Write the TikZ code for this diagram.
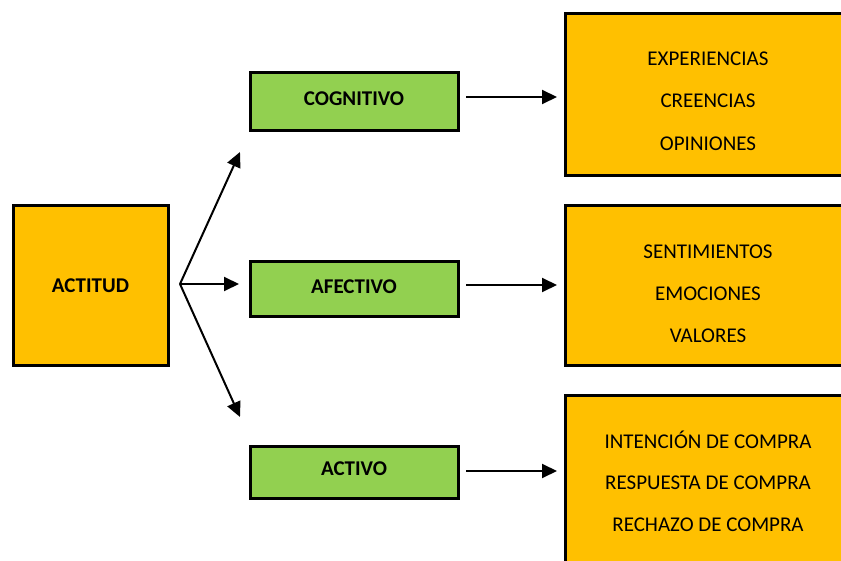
\documentclass[tikz,border=0pt]{standalone}
\usepackage{fontspec}
\setmainfont{Carlito}
\usetikzlibrary{arrows.meta}
\definecolor{boxorange}{HTML}{FFC000}
\definecolor{boxgreen}{HTML}{92D050}
\begin{document}
\begin{tikzpicture}[x=1pt, y=-1pt,
  obox/.style={draw=black, line width=3pt, fill=boxorange, rectangle, inner sep=0pt},
  gbox/.style={draw=black, line width=3pt, fill=boxgreen, rectangle, inner sep=0pt,
    minimum width=208pt, text depth=6pt, font=\fontsize{21}{25}\selectfont\bfseries},
  itemtxt/.style={font=\fontsize{21}{25}\selectfont, align=center, inner sep=0pt},
  arr/.style={line width=2pt, -{Triangle[length=15pt,width=14pt]}}]
\useasboundingbox (0,0) rectangle (841,561);

% main concept
\node[obox, minimum width=155pt, minimum height=160pt,
  font=\fontsize{21}{25}\selectfont\bfseries] (actitud) at (90.5,286) {ACTITUD};

% three components
\node[gbox, minimum height=58pt] (cog) at (354,102) {COGNITIVO};
\node[gbox, minimum height=55pt] (afe) at (354,289.5) {AFECTIVO};
\node[gbox, minimum height=52pt] (act) at (354,472) {ACTIVO};

% detail boxes (running past the right edge)
\node[obox, minimum width=280pt, minimum height=162pt] (dcog) at (705,95) {};
\node[obox, minimum width=280pt, minimum height=160pt] (dafe) at (705,286) {};
\node[obox, minimum width=280pt, minimum height=172pt] (dact) at (705,481) {};

\node[itemtxt] (t1a) at (708,59) {EXPERIENCIAS};
\node[itemtxt] (t1b) at (708,101) {CREENCIAS};
\node[itemtxt] (t1c) at (708,144) {OPINIONES};
\node[itemtxt] (t2a) at (708,252) {SENTIMIENTOS};
\node[itemtxt] (t2b) at (708,294) {EMOCIONES};
\node[itemtxt] (t2c) at (708,336) {VALORES};
\node[itemtxt] (t3a) at (708,440) {INTENCIÓN DE COMPRA};
\node[itemtxt] (t3b) at (708,483) {RESPUESTA DE COMPRA};
\node[itemtxt] (t3c) at (708,525) {RECHAZO DE COMPRA};

% fan of arrows from ACTITUD
\coordinate (br) at (180,284);
\coordinate (up) at (240,152);
\coordinate (mid) at (239,284);
\coordinate (down) at (240,417);
\draw[arr] (br) -- (up);
\draw[arr] (br) -- (mid);
\draw[arr] (br) -- (down);

% arrows from components to their details
\coordinate (c1s) at (466,97);  \coordinate (c1e) at (557,97);
\coordinate (c2s) at (466,285); \coordinate (c2e) at (557,285);
\coordinate (c3s) at (466,471); \coordinate (c3e) at (557,471);
\draw[arr] (c1s) -- (c1e);
\draw[arr] (c2s) -- (c2e);
\draw[arr] (c3s) -- (c3e);
\end{tikzpicture}
\end{document}
